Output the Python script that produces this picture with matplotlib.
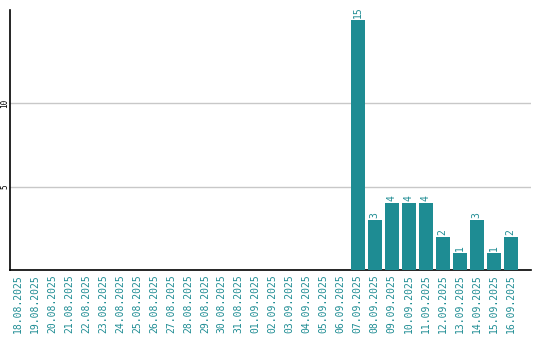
import matplotlib
matplotlib.use("Agg")
import matplotlib.pyplot as plt

dates = ["18.08.2025", "19.08.2025", "20.08.2025", "21.08.2025", "22.08.2025",
         "23.08.2025", "24.08.2025", "25.08.2025", "26.08.2025", "27.08.2025",
         "28.08.2025", "29.08.2025", "30.08.2025", "31.08.2025", "01.09.2025",
         "02.09.2025", "03.09.2025", "04.09.2025", "05.09.2025", "06.09.2025",
         "07.09.2025", "08.09.2025", "09.09.2025", "10.09.2025", "11.09.2025",
         "12.09.2025", "13.09.2025", "14.09.2025", "15.09.2025", "16.09.2025"]
counts = [0, 0, 0, 0, 0, 0, 0, 0, 0, 0,
          0, 0, 0, 0, 0, 0, 0, 0, 0, 0,
          15, 3, 4, 4, 4, 2, 1, 3, 1, 2]
y_ticks = [5, 10]

teal = "#1e8c93"
mono = "DejaVu Sans Mono"

fig = plt.figure(figsize=(5.4, 3.4), dpi=100)
ax = fig.add_axes([10 / 540, 70 / 340, 521 / 540, 260 / 340])

x = list(range(len(dates)))
ax.bar(x, counts, width=0.82, color=teal, zorder=3)

# Wartości nad słupkami
for xi, c in zip(x, counts):
    if c > 0:
        ax.text(xi, c + 0.12, str(c), rotation=90, ha="center", va="bottom",
                color=teal, fontsize=7, family=mono)

ax.set_xlim(-0.47, 30.2)
ax.set_ylim(0, 15.6)
ax.set_xticks(x)
ax.set_xticklabels(dates, rotation=90, color=teal, fontsize=7, family=mono)
ax.set_yticks(y_ticks)
ax.set_yticklabels([str(t) for t in y_ticks], rotation=90, va="center",
                   fontsize=5.5, family=mono)
ax.tick_params(axis="x", length=0, pad=3)
ax.tick_params(axis="y", length=0, pad=0.5)
ax.grid(axis="y", color="#c8c8c8", linewidth=1, zorder=0)
for s in ["top", "right"]:
    ax.spines[s].set_visible(False)
ax.spines["left"].set_linewidth(1.2)
ax.spines["bottom"].set_linewidth(1.2)

fig.savefig("out.png", dpi=100)
